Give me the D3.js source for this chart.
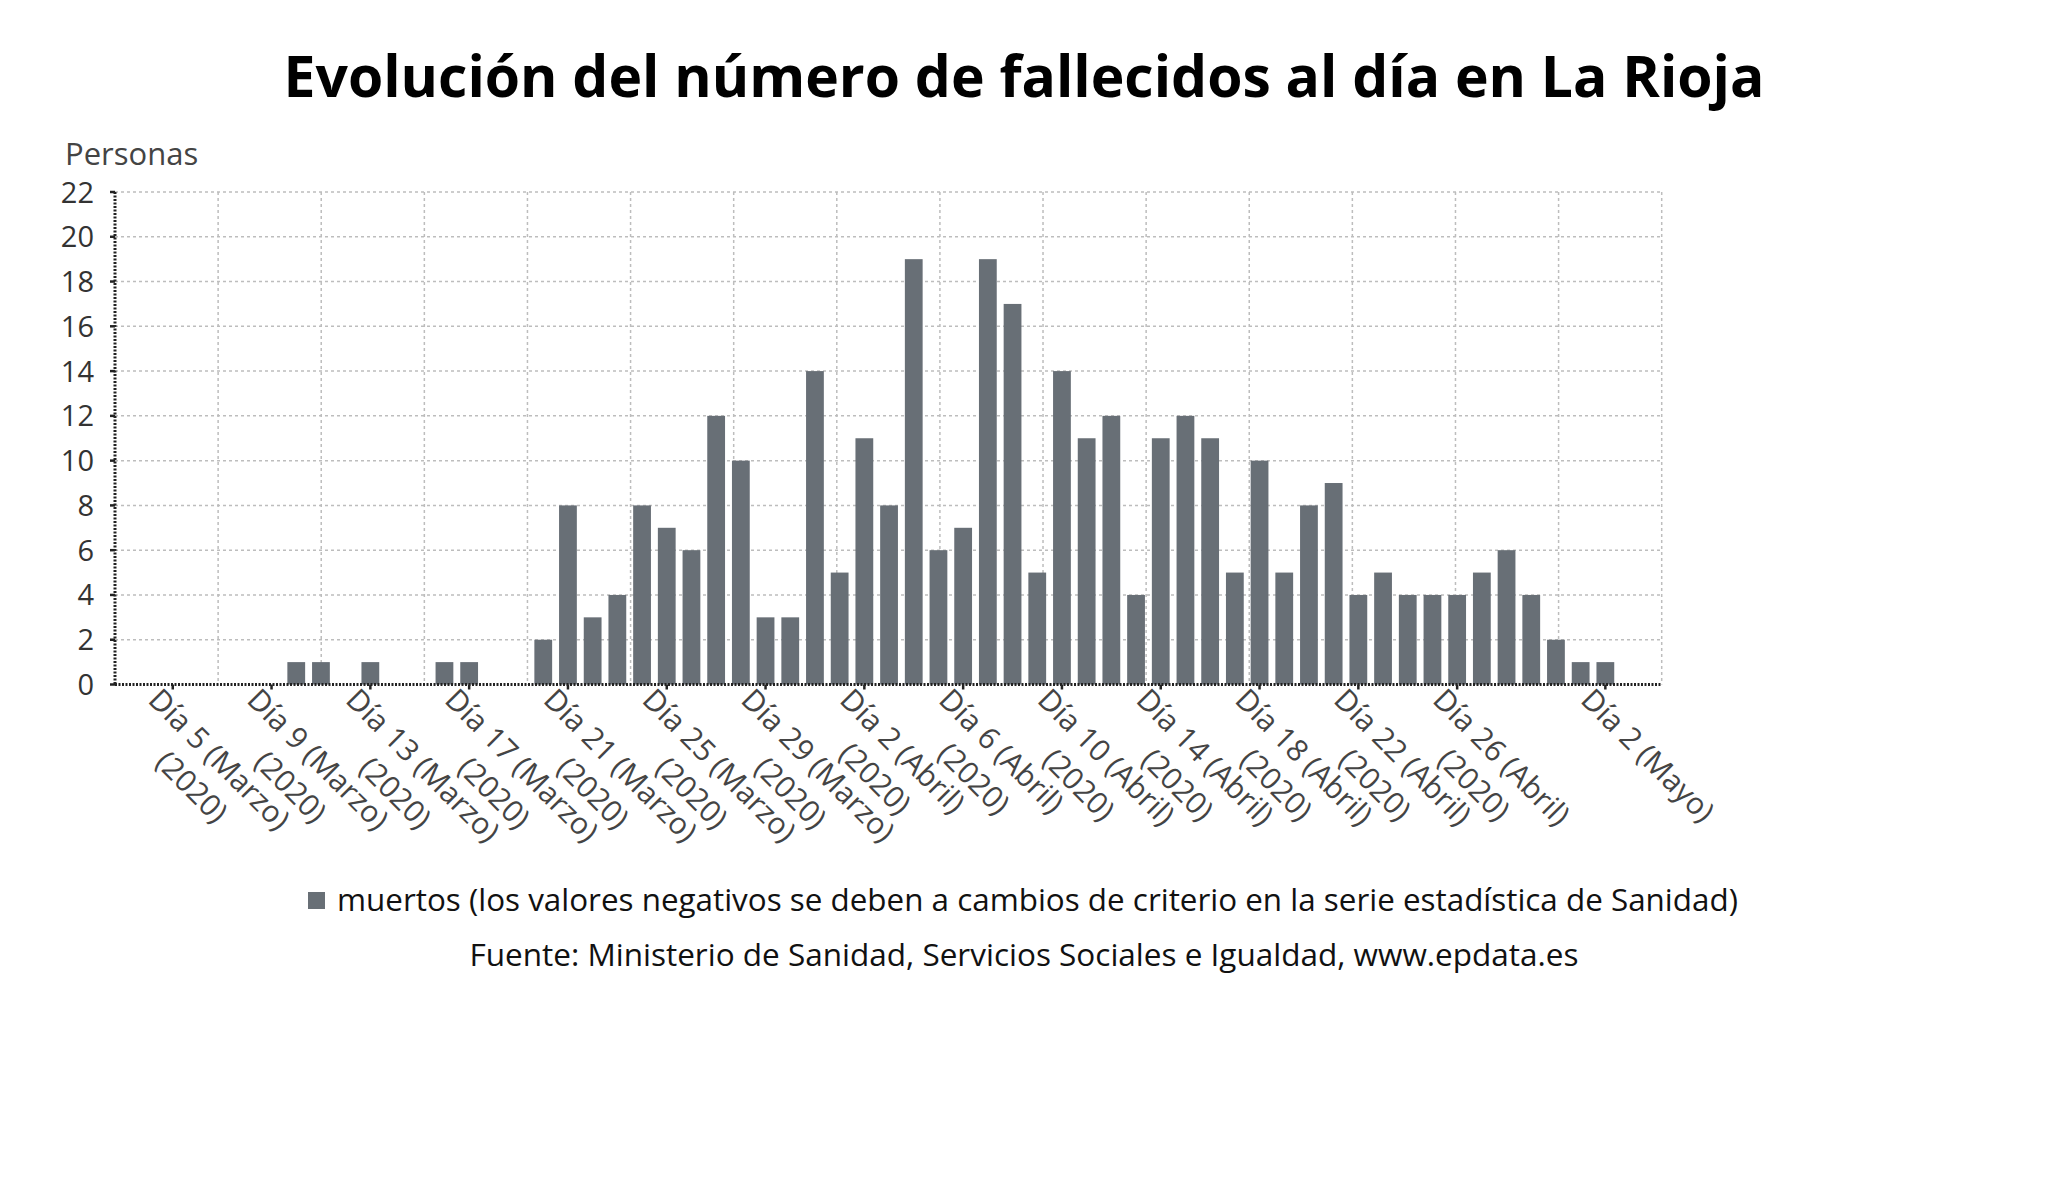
<!DOCTYPE html>
<html>
<head>
<meta charset="utf-8">
<script src="https://cdn.jsdelivr.net/npm/d3@7"></script>
<style>
  body { margin: 0; background: #fff; }
  text { font-family: "Open Sans", sans-serif; }
</style>
</head>
<body>
<svg id="chart" width="2048" height="1203"></svg>
<script>
// días (categorías) y fallecidos por día
const days = [
  "03-03","03-04","03-05","03-06","03-07","03-08","03-09","03-10","03-11","03-12",
  "03-13","03-14","03-15","03-16","03-17","03-18","03-19","03-20","03-21","03-22",
  "03-23","03-24","03-25","03-26","03-27","03-28","03-29","03-30","03-31","04-01",
  "04-02","04-03","04-04","04-05","04-06","04-07","04-08","04-09","04-10","04-11",
  "04-12","04-13","04-14","04-15","04-16","04-17","04-18","04-19","04-20","04-21",
  "04-22","04-23","04-24","04-25","04-26","04-27","04-28","04-29","04-30","05-01",
  "05-02"
];
const muertos = [
  0,0,0,0,0,0,0,1,1,0,
  1,0,0,1,1,0,0,2,8,3,
  4,8,7,6,12,10,3,3,14,5,
  11,8,19,6,7,19,17,5,14,11,
  12,4,11,12,11,5,10,5,8,9,
  4,5,4,4,4,5,6,4,2,1,
  1
];
const tickDays = ["03-05","03-09","03-13","03-17","03-21","03-25","03-29","04-02","04-06","04-10","04-14","04-18","04-22","04-26","05-02"];
const tickLabels = [
  ["Día 5 (Marzo)", "(2020)"], ["Día 9 (Marzo)", "(2020)"], ["Día 13 (Marzo)", "(2020)"],
  ["Día 17 (Marzo)", "(2020)"], ["Día 21 (Marzo)", "(2020)"], ["Día 25 (Marzo)", "(2020)"],
  ["Día 29 (Marzo)", "(2020)"], ["Día 2 (Abril)", "(2020)"], ["Día 6 (Abril)", "(2020)"],
  ["Día 10 (Abril)", "(2020)"], ["Día 14 (Abril)", "(2020)"], ["Día 18 (Abril)", "(2020)"],
  ["Día 22 (Abril)", "(2020)"], ["Día 26 (Abril)", "(2020)"], ["Día 2 (Mayo)"]
];
const yTicks = [0, 2, 4, 6, 8, 10, 12, 14, 16, 18, 20, 22];

const barColor = '#686f76';
const svg = d3.select('#chart');

const plotLeft = 115, plotRight = 1661.7, plotTop = 192, plotBottom = 684.5;
const step = 24.7;

const x = d3.scaleBand()
  .domain(days)
  .range([111, 111 + days.length * step])
  .paddingInner(0.28)
  .paddingOuter(0.14);

const y = d3.scaleLinear().domain([0, 22]).range([plotBottom, plotTop]);

// title
svg.append('text')
  .attr('x', 1024).attr('y', 97)
  .attr('text-anchor', 'middle')
  .style('font-size', '57px').style('font-weight', 'bold')
  .attr('fill', '#000')
  .text('Evolución del número de fallecidos al día en La Rioja');

svg.append('text')
  .attr('x', 65).attr('y', 165)
  .style('font-size', '31px')
  .attr('fill', '#444')
  .text('Personas');

// horizontal grid
svg.append('g').selectAll('line')
  .data(yTicks.filter(d => d > 0))
  .enter().append('line')
  .attr('x1', plotLeft).attr('x2', plotRight)
  .attr('y1', d => y(d)).attr('y2', d => y(d))
  .attr('stroke', '#bdbdbd').attr('stroke-width', 1.5)
  .attr('stroke-dasharray', '3,3');

// vertical grid (15 equal divisions)
const gx = d3.scaleLinear().domain([0, 15]).range([plotLeft, plotRight]);
svg.append('g').selectAll('line')
  .data(d3.range(1, 16))
  .enter().append('line')
  .attr('x1', d => gx(d)).attr('x2', d => gx(d))
  .attr('y1', plotTop).attr('y2', plotBottom)
  .attr('stroke', '#bdbdbd').attr('stroke-width', 1.5)
  .attr('stroke-dasharray', '3,3');

// bars
svg.append('g').selectAll('rect')
  .data(days.map((d, i) => ({ day: d, v: muertos[i] })))
  .enter().append('rect')
  .attr('x', d => x(d.day))
  .attr('width', x.bandwidth())
  .attr('y', d => y(d.v))
  .attr('height', d => y(0) - y(d.v))
  .attr('fill', barColor);

// y axis
const yAxis = svg.append('g');
yAxis.append('line')
  .attr('x1', plotLeft).attr('x2', plotLeft).attr('y1', plotTop).attr('y2', plotBottom)
  .attr('stroke', '#222').attr('stroke-width', 3).attr('stroke-dasharray', '2,1.5');
yAxis.selectAll('line.tick')
  .data(yTicks)
  .enter().append('line')
  .attr('class', 'tick')
  .attr('x1', plotLeft - 5).attr('x2', plotLeft)
  .attr('y1', d => y(d)).attr('y2', d => y(d))
  .attr('stroke', '#222').attr('stroke-width', 2.5);
yAxis.selectAll('text')
  .data(yTicks)
  .enter().append('text')
  .attr('x', 94).attr('y', d => y(d) + 10.5)
  .attr('text-anchor', 'end')
  .style('font-size', '29px')
  .attr('fill', '#333')
  .text(d => d);

// x axis
const xAxis = svg.append('g');
xAxis.append('line')
  .attr('x1', plotLeft).attr('x2', plotRight).attr('y1', plotBottom).attr('y2', plotBottom)
  .attr('stroke', '#222').attr('stroke-width', 3).attr('stroke-dasharray', '2,1.5');
xAxis.selectAll('line.tick')
  .data(tickDays)
  .enter().append('line')
  .attr('class', 'tick')
  .attr('x1', d => x(d) + x.bandwidth() / 2).attr('x2', d => x(d) + x.bandwidth() / 2)
  .attr('y1', plotBottom).attr('y2', plotBottom + 5)
  .attr('stroke', '#222').attr('stroke-width', 2.5);

xAxis.selectAll('g.lbl')
  .data(tickDays)
  .enter().append('g')
  .attr('class', 'lbl')
  .attr('transform', d => `translate(${x(d) + x.bandwidth() / 2 - 26},${plotBottom + 17}) rotate(45)`)
  .each(function (d, i) {
    const g = d3.select(this);
    const lines = tickLabels[i];
    const t = g.append('text')
      .style('font-size', '30px')
      .attr('fill', '#444')
      .attr('text-anchor', 'middle');
    const first = t.append('tspan').attr('x', 0).attr('y', 0).text(lines[0]);
    const w = first.node().getComputedTextLength();
    first.attr('x', w / 2);
    if (lines[1]) {
      t.append('tspan').attr('x', w / 2).attr('y', 39).text(lines[1]);
    }
  });

// legend
svg.append('rect')
  .attr('x', 308).attr('y', 892).attr('width', 17).attr('height', 17)
  .attr('fill', barColor);
svg.append('text')
  .attr('x', 337).attr('y', 911)
  .style('font-size', '31.4px')
  .attr('fill', '#111')
  .text('muertos (los valores negativos se deben a cambios de criterio en la serie estadística de Sanidad)');

svg.append('text')
  .attr('x', 1024).attr('y', 966)
  .attr('text-anchor', 'middle')
  .style('font-size', '31.5px')
  .attr('fill', '#111')
  .text('Fuente: Ministerio de Sanidad, Servicios Sociales e Igualdad, www.epdata.es');
</script>
</body>
</html>
